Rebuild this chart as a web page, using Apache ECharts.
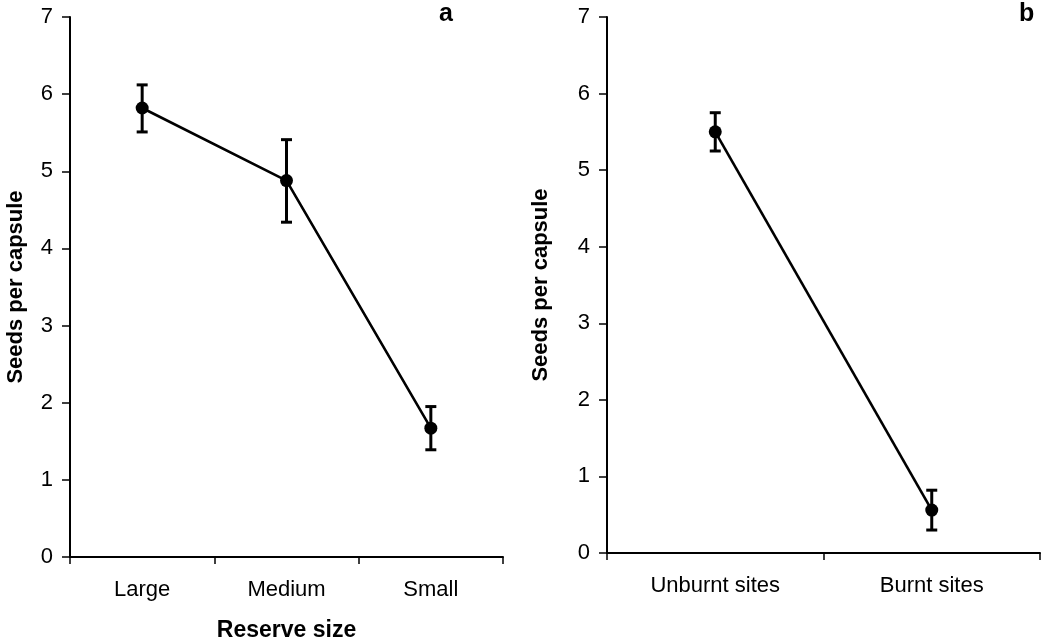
<!DOCTYPE html>
<html>
<head>
<meta charset="utf-8">
<script src="https://cdn.jsdelivr.net/npm/echarts/dist/echarts.min.js"></script>
<style>
html,body{margin:0;padding:0;background:#fff;}
#chart{width:1043px;height:642px;}
</style>
</head>
<body>
<div id="chart"></div>
<script>
// Panel a: reserve size
const categoriesA = ['Large', 'Medium', 'Small'];
const meansA = [5.82, 4.88, 1.67];
const lowA = [5.51, 4.34, 1.39];
const highA = [6.12, 5.41, 1.95];

// Panel b: fire
const categoriesB = ['Unburnt sites', 'Burnt sites'];
const meansB = [5.50, 0.56];
const lowB = [5.25, 0.30];
const highB = [5.75, 0.82];

const yTicks = [0, 1, 2, 3, 4, 5, 6, 7];

const FONT = '"Liberation Sans", Arial, sans-serif';

function errData(low, high) {
  return low.map((l, i) => [i, l, high[i]]);
}

function errorBarSeries(xi, yi, low, high) {
  return {
    type: 'custom',
    xAxisIndex: xi,
    yAxisIndex: yi,
    z: 5,
    silent: true,
    data: errData(low, high),
    renderItem: function (params, api) {
      const x = api.value(0);
      const top = api.coord([x, api.value(2)]);
      const bot = api.coord([x, api.value(1)]);
      const hw = 5.5;
      const style = { stroke: '#000', lineWidth: 3 };
      return {
        type: 'group',
        children: [
          { type: 'line', shape: { x1: top[0], y1: top[1], x2: bot[0], y2: bot[1] }, style: style },
          { type: 'line', shape: { x1: top[0] - hw, y1: top[1], x2: top[0] + hw, y2: top[1] }, style: style },
          { type: 'line', shape: { x1: bot[0] - hw, y1: bot[1], x2: bot[0] + hw, y2: bot[1] }, style: style }
        ]
      };
    }
  };
}

function yAxisCfg(gi, gap) {
  return {
    type: 'value',
    gridIndex: gi,
    min: 0, max: 7, interval: 1,
    name: 'Seeds per capsule',
    nameLocation: 'middle',
    nameGap: gap,
    nameTextStyle: { fontFamily: FONT, fontWeight: 'bold', fontSize: 22, color: '#000' },
    axisLine: { show: true, lineStyle: { color: '#000', width: 2 } },
    axisTick: { show: true, length: 8, lineStyle: { color: '#000', width: 1.5 } },
    axisLabel: { fontFamily: FONT, fontSize: 22, color: '#000', margin: 17,
      formatter: v => yTicks.includes(v) ? String(v) : '' },
    splitLine: { show: false }
  };
}

function xAxisCfg(gi, cats, name) {
  return {
    type: 'category',
    gridIndex: gi,
    data: cats,
    boundaryGap: true,
    name: name,
    nameLocation: 'middle',
    nameGap: 62,
    nameTextStyle: { fontFamily: FONT, fontWeight: 'bold', fontSize: 23, color: '#000' },
    axisLine: { show: true, lineStyle: { color: '#000', width: 2 } },
    axisTick: { show: true, length: 7, alignWithLabel: false, lineStyle: { color: '#000', width: 1.5 } },
    axisLabel: { fontFamily: FONT, fontSize: 22, color: '#000', margin: 22, interval: 0 },
    splitLine: { show: false }
  };
}

const lineStyleCommon = {
  type: 'line',
  symbol: 'circle',
  symbolSize: 13,
  itemStyle: { color: '#000' },
  lineStyle: { color: '#000', width: 2.6 },
  z: 4,
  silent: true
};

const option = {
  backgroundColor: '#fff',
  animation: false,
  title: [
    { text: 'a', left: 434, top: -3, textStyle: { fontFamily: FONT, fontWeight: 'bold', fontSize: 25, color: '#000' } },
    { text: 'b', left: 1014, top: -3, textStyle: { fontFamily: FONT, fontWeight: 'bold', fontSize: 25, color: '#000' } }
  ],
  grid: [
    { left: 70, top: 17, width: 433, height: 540, containLabel: false, outerBoundsMode: 'none' },
    { left: 607, top: 17, width: 433, height: 536, containLabel: false, outerBoundsMode: 'none' }
  ],
  xAxis: [
    xAxisCfg(0, categoriesA, 'Reserve size'),
    xAxisCfg(1, categoriesB, '')
  ],
  yAxis: [
    yAxisCfg(0, 43),
    yAxisCfg(1, 55)
  ],
  series: [
    Object.assign({}, lineStyleCommon, { xAxisIndex: 0, yAxisIndex: 0, data: meansA }),
    errorBarSeries(0, 0, lowA, highA),
    Object.assign({}, lineStyleCommon, { xAxisIndex: 1, yAxisIndex: 1, data: meansB }),
    errorBarSeries(1, 1, lowB, highB)
  ]
};

const chart = echarts.init(document.getElementById('chart'), null, { renderer: 'canvas' });
chart.setOption(option);
</script>
</body>
</html>
